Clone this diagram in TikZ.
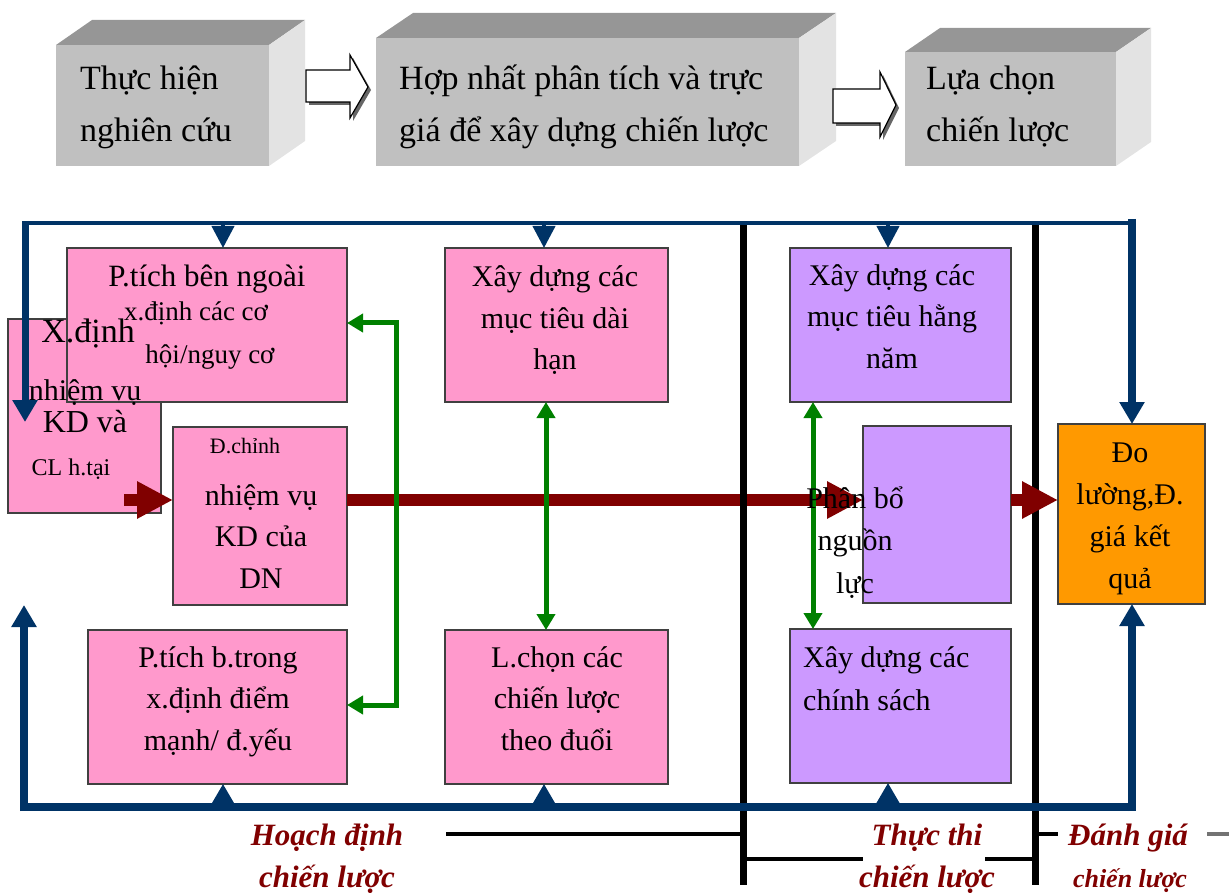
\documentclass[tikz,border=0pt]{standalone}
\usepackage{fontspec}
\setmainfont{Liberation Serif}
\usetikzlibrary{arrows.meta}
\definecolor{pinkfill}{HTML}{FF99CC}
\definecolor{lilacfill}{HTML}{CC99FF}
\definecolor{amberfill}{HTML}{FF9900}
\definecolor{navyblue}{HTML}{003366}
\definecolor{darkred}{HTML}{800000}
\definecolor{leafgreen}{HTML}{008000}
\definecolor{frontgray}{HTML}{C0C0C0}
\definecolor{topgray}{HTML}{969696}
\definecolor{sidegray}{HTML}{E3E3E3}
\newcommand\fsz[2]{\fontsize{#1}{#2}\selectfont}
\begin{document}
\begin{tikzpicture}[x=1pt, y=-1pt,
  front/.style={fill=frontgray, inner sep=0pt, outer sep=0pt, anchor=north west},
  topface/.style={fill=topgray},
  sideface/.style={fill=sidegray},
  toptext/.style={inner sep=0pt, anchor=base west, align=left, font=\fsz{34}{52.5}},
  blockarrow/.style={fill=white, draw=black, line width=1.2pt, line join=miter},
  blockshadow/.style={fill=black!60},
  box/.style={draw=black!75, line width=1.3pt, inner sep=0pt, outer sep=0pt, anchor=north west},
  pinkbox/.style={box, fill=pinkfill},
  lilacbox/.style={box, fill=lilacfill},
  amberbox/.style={box, fill=amberfill},
  boxtext/.style={inner sep=0pt, anchor=base, align=center, font=\fsz{30}{41.5}},
  redarrow/.style={draw=darkred, line width=12pt, -{Triangle[length=36pt, width=35pt]}},
  greenlink/.style={draw=leafgreen, line width=5pt, line join=miter,
    {Triangle[length=16pt, width=18pt]}-{Triangle[length=16pt, width=18pt]}},
  navythin/.style={draw=navyblue, line width=4pt},
  navythick/.style={draw=navyblue, line width=8pt},
  navyhead/.style={-{Triangle[length=22pt, width=24pt]}},
  stage/.style={inner sep=0pt, anchor=base, align=center, text=darkred,
    font=\bfseries\itshape\fsz{31}{42}},
  divider/.style={draw=black, line width=7pt},
  tick/.style={draw=black, line width=4pt},
]
\useasboundingbox (0,0) rectangle (1229,893);

% ---------- top row: three grey blocks ----------
\node[front, minimum width=213pt, minimum height=121pt] (research) at (56,45) {};
\node[front, minimum width=423pt, minimum height=128pt] (merge) at (376,38) {};
\node[front, minimum width=211pt, minimum height=114pt] (choose) at (905,52) {};
\foreach \b/\dx/\dy in {research/36/-25, merge/37/-25, choose/35/-24}{
  \fill[topface] (\b.north west) -- ++(\dx,\dy) -- ([shift={(\dx,\dy)}]\b.north east) -- (\b.north east) -- cycle;
  \fill[sideface] (\b.north east) -- ++(\dx,\dy) -- ([shift={(\dx,\dy)}]\b.south east) -- (\b.south east) -- cycle;
}
% (multi-line nodes are placed by the baseline of their last line)
\node[toptext] (research-t) at (80,142) {Thực hiện\\nghiên cứu};
\node[toptext] (merge-t) at (399,142) {Hợp nhất phân tích và trực\\giá để xây dựng chiến lược};
\node[toptext] (choose-t) at (926,142) {Lựa chọn\\chiến lược};

% hollow block arrows between the grey blocks
\fill[blockshadow] (309,73) -- (353,73) -- (353,58) -- (371,90) -- (353,121) -- (353,105) -- (309,105) -- cycle;
\filldraw[blockarrow] (306,70) -- (350,70) -- (350,55) -- (368,87) -- (350,118) -- (350,102) -- (306,102) -- cycle;
\fill[blockshadow] (836,92) -- (883,92) -- (883,75) -- (899,108) -- (883,140) -- (883,126) -- (836,126) -- cycle;
\filldraw[blockarrow] (833,89) -- (880,89) -- (880,72) -- (896,105) -- (880,137) -- (880,123) -- (833,123) -- cycle;

% ---------- process boxes ----------
\node[pinkbox, minimum width=153pt, minimum height=194pt] (mission) at (8,319) {};
\node[pinkbox, minimum width=280pt, minimum height=154pt] (external) at (67,248) {};
\node[pinkbox, minimum width=174pt, minimum height=178pt] (revise) at (173,427) {};
\node[pinkbox, minimum width=259pt, minimum height=154pt] (internal) at (88,630) {};
\node[pinkbox, minimum width=223pt, minimum height=154pt] (longterm) at (445,248) {};
\node[pinkbox, minimum width=223pt, minimum height=154pt] (select) at (445,630) {};
\node[lilacbox, minimum width=221pt, minimum height=154pt] (annual) at (790,248) {};
\node[lilacbox, minimum width=148pt, minimum height=177pt] (allocate) at (863,426) {};
\node[lilacbox, minimum width=221pt, minimum height=154pt] (policy) at (790,629) {};
\node[amberbox, minimum width=147pt, minimum height=180pt] (measure) at (1058,424) {};

% ---------- main red flow ----------
\coordinate (ry) at (0,500);
\coordinate (rs) at (124,500);
\draw[redarrow] (rs) -- (revise.west |- ry);
\draw[redarrow] (revise.east |- ry) -- (allocate.west |- ry);

% ---------- green two-way links ----------
\coordinate (g1) at (396,323);
\coordinate (g2) at (396,705);
\draw[greenlink] (external.east |- g1) -- (g1) -- (g2) -- (internal.east |- g2);
\coordinate (g3) at (546,0);
\draw[greenlink] (longterm.south -| g3) -- (select.north -| g3);
\coordinate (g4) at (813,0);
\draw[greenlink] (annual.south -| g4) -- (policy.north -| g4);

% ---------- stage dividers ----------
\draw[divider] (743,223) -- (743,885);
\draw[divider] (1035,223) -- (1035,885);
\draw[redarrow] (allocate.east |- ry) -- (measure.west |- ry);

\draw[tick] (446,834) -- (740,834);
\draw[tick] (1038,834) -- (1058,834);
\draw[tick, draw=black!55] (1207,834) -- (1229,834);
\draw[tick] (746,859) -- (863,859);
\draw[tick] (985,859) -- (1032,859);

% ---------- navy feedback frame ----------
\coordinate (c1) at (223,0);
\coordinate (c2) at (544,0);
\coordinate (c3) at (888,0);
\coordinate (lefttop) at (25,221);
\coordinate (lefttip) at (25,422);
\coordinate (leftbot) at (24,811);
\coordinate (leftup) at (24,605);
\draw[navythin] (23,223) -- (1136,223);
\draw[navythick, line width=7pt, navyhead] (lefttop) -- (lefttip);
\draw[navythick, navyhead] (1132,219) -- (measure.north -| 1132,0);
\draw[navythick] (20,807) -- (1136,807);
\draw[navythick, navyhead] (leftbot) -- (leftup);
\draw[navythick, navyhead] (1132,811) -- (measure.south -| 1132,0);
\foreach \c/\b in {c1/external, c2/longterm, c3/annual}
  \draw[navythin, -{Triangle[length=22pt, width=22pt]}] (\c |- 0,222) -- (\b.north -| \c);
\foreach \c/\b in {c1/internal, c2/select, c3/policy}
  \draw[navythin, -{Triangle[length=20pt, width=22pt]}] (\c |- 0,805) -- (\b.south -| \c);

% ---------- box texts ----------
\node[boxtext] (mission-a) at (88,342) {\fsz{34}{40}X.định};
\node[boxtext] (mission-b) at (85,400) {nhiệm vụ};
\node[boxtext] (mission-c) at (85,432) {\fsz{32}{40}KD và};
\node[boxtext] (mission-d) at (71,475) {\fsz{24}{30}CL h.tại};
\node[boxtext] (external-a) at (207,287) {\fsz{31}{40}P.tích bên ngoài};
\node[boxtext] (external-b) at (196,320) {\fsz{27}{40}x.định các cơ};
\node[boxtext] (external-c) at (210,363) {\fsz{27}{40}hội/nguy cơ};
\node[boxtext] (revise-a) at (245,453) {\fsz{22}{30}Đ.chỉnh};
\node[boxtext] (revise-b) at (261,588) {nhiệm vụ\\KD của\\DN};
\node[boxtext] (internal-t) at (218,750) {P.tích b.trong\\x.định điểm\\mạnh/ đ.yếu};
\node[boxtext] (longterm-t) at (555,370) {Xây dựng các\\mục tiêu dài\\hạn};
\node[boxtext] (select-t) at (557,750) {L.chọn các\\chiến lược\\theo đuổi};
\node[boxtext] (annual-t) at (892,368) {Xây dựng các\\mục tiêu hằng\\năm};
\node[boxtext, font=\fsz{30}{42.5}] (allocate-t) at (855,593) {Phân bổ\\nguồn\\lực};
\node[boxtext, font=\fsz{30}{42}] (measure-t) at (1130,588) {Đo\\lường,Đ.\\giá kết\\quả};
\node[boxtext, anchor=base west, align=left, font=\fsz{30}{43}] (policy-t) at (803,710) {Xây dựng các\\chính sách};

% ---------- stage labels ----------
\node[stage] (plan) at (327,887) {Hoạch định\\chiến lược};
\node[stage] (exec) at (927,887) {Thực thi\\chiến lược};
\node[stage] (eval) at (1128,845) {Đánh giá};
\node[stage, font=\bfseries\itshape\fsz{26}{30}] (eval-b) at (1130,887) {chiến lược};
\end{tikzpicture}
\end{document}
